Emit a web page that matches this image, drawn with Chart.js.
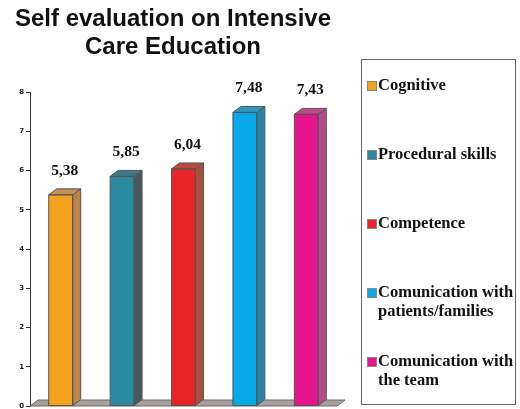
<!DOCTYPE html>
<html>
<head>
<meta charset="utf-8">
<script src="https://cdn.jsdelivr.net/npm/chart.js@4.4.0/dist/chart.umd.min.js"></script>
<style>
  html, body { margin: 0; padding: 0; background: #fff; }
  #wrap { width: 520px; height: 409px; position: relative; }
</style>
</head>
<body>
<div id="wrap"><canvas id="chart" width="520" height="409"></canvas></div>
<script>
// data
let categories = ["Cognitive", "Procedural skills", "Competence", "Comunication with patients/families", "Comunication with the team"];
let legend_lines = [["Cognitive"], ["Procedural skills"], ["Competence"], ["Comunication with", "patients/families"], ["Comunication with", "the team"]];
let scores = [5.38, 5.85, 6.04, 7.48, 7.43];
let y_ticks = [0, 1, 2, 3, 4, 5, 6, 7, 8];

let front_colors = ["#f5a31f", "#2a8aa1", "#e92428", "#08a9e9", "#e8148d"];
let side_colors = ["#b8844a", "#47595f", "#a8503f", "#2b86a5", "#b04d87"];
let top_colors = ["#c99150", "#3f7987", "#b9493a", "#2a9abf", "#c0488f"];

const depth_x = 8, depth_y = 6;

// floor under the bars
let floor_plugin = {
    id: 'floor',
    beforeDatasetsDraw(chart) {
        let ctx = chart.ctx;
        let area = chart.chartArea;
        let y0 = chart.scales.y.getPixelForValue(0);
        ctx.save();
        ctx.fillStyle = "#a7a19d";
        ctx.strokeStyle = "#6e6a68";
        ctx.lineWidth = 1;
        ctx.beginPath();
        ctx.moveTo(area.left, y0);
        ctx.lineTo(area.left + depth_x, y0 - depth_y);
        ctx.lineTo(area.right + depth_x, y0 - depth_y);
        ctx.lineTo(area.right, y0);
        ctx.closePath();
        ctx.fill();
        ctx.stroke();
        ctx.restore();
    }
};

// 3d faces and value labels
let faces_plugin = {
    id: 'faces',
    afterDatasetsDraw(chart) {
        let ctx = chart.ctx;
        let meta = chart.getDatasetMeta(0);
        ctx.save();
        ctx.lineWidth = 1;
        ctx.strokeStyle = "#555";
        meta.data.forEach((bar, i) => {
            let p = bar.getProps(['x', 'y', 'base', 'width'], true);
            let l = p.x - p.width / 2, r = p.x + p.width / 2;
            // side
            ctx.fillStyle = side_colors[i];
            ctx.beginPath();
            ctx.moveTo(r, p.y);
            ctx.lineTo(r + depth_x, p.y - depth_y);
            ctx.lineTo(r + depth_x, p.base - depth_y);
            ctx.lineTo(r, p.base);
            ctx.closePath();
            ctx.fill();
            ctx.stroke();
            // top
            ctx.fillStyle = top_colors[i];
            ctx.beginPath();
            ctx.moveTo(l, p.y);
            ctx.lineTo(l + depth_x, p.y - depth_y);
            ctx.lineTo(r + depth_x, p.y - depth_y);
            ctx.lineTo(r, p.y);
            ctx.closePath();
            ctx.fill();
            ctx.stroke();
            // front outline
            ctx.strokeRect(l, p.y, p.width, p.base - p.y);

            ctx.fillStyle = "#111";
            ctx.font = "bold 15.5px 'Liberation Serif', serif";
            ctx.textAlign = "center";
            ctx.textBaseline = "middle";
            ctx.fillText(scores[i].toFixed(2).replace('.', ','), p.x + 4, p.y - 24);
        });
        ctx.restore();
    }
};

// boxed legend on the right
let legend_plugin = {
    id: 'boxlegend',
    afterDraw(chart) {
        let ctx = chart.ctx;
        let item_y = [86, 155, 224, 293, 362];
        ctx.save();
        ctx.strokeStyle = "#666";
        ctx.lineWidth = 1;
        ctx.strokeRect(361.5, 59.5, 154, 345);
        ctx.font = "bold 16.5px 'Liberation Serif', serif";
        ctx.textBaseline = "middle";
        ctx.textAlign = "left";
        legend_lines.forEach((lines, i) => {
            ctx.fillStyle = front_colors[i];
            ctx.fillRect(367, item_y[i] - 5, 10, 10);
            ctx.strokeStyle = "#888";
            ctx.strokeRect(367.5, item_y[i] - 4.5, 9, 9);
            ctx.fillStyle = "#111";
            lines.forEach((t, k) => {
                ctx.fillText(t, 378, item_y[i] + k * 18.5);
            });
        });
        ctx.restore();
    }
};

let chart = new Chart(document.getElementById("chart"), {
    type: 'bar',
    data: {
        labels: categories,
        datasets: [{
            data: scores,
            backgroundColor: front_colors,
            borderWidth: 0,
            categoryPercentage: 1,
            barPercentage: 0.39
        }]
    },
    options: {
        responsive: false,
        animation: false,
        events: [],
        layout: { padding: { left: 9, right: 183, top: 3, bottom: 3 } },
        plugins: {
            legend: { display: false },
            tooltip: { enabled: false },
            title: {
                display: true,
                text: ["Self evaluation on Intensive", "Care Education"],
                color: "#111",
                font: { family: "'Liberation Sans', Arial, sans-serif", size: 24, weight: 'bold', lineHeight: 1.167 },
                padding: { top: 2, bottom: 31 }
            }
        },
        scales: {
            x: { display: false },
            y: {
                min: 0,
                max: 8,
                afterFit(scale) {
                    scale.width = 21;
                    scale.paddingTop = 0;
                    scale.paddingBottom = 0;
                },
                afterBuildTicks(scale) { scale.ticks = y_ticks.map(v => ({ value: v })); },
                border: { display: true, color: "#333", width: 1 },
                grid: { display: true, drawOnChartArea: false, drawTicks: true, tickLength: 4, color: "#333" },
                ticks: {
                    color: "#222",
                    padding: 2,
                    font: { family: "'DejaVu Sans', sans-serif", size: 7, weight: 'bold' }
                }
            }
        }
    },
    plugins: [floor_plugin, faces_plugin, legend_plugin]
});
</script>
</body>
</html>
